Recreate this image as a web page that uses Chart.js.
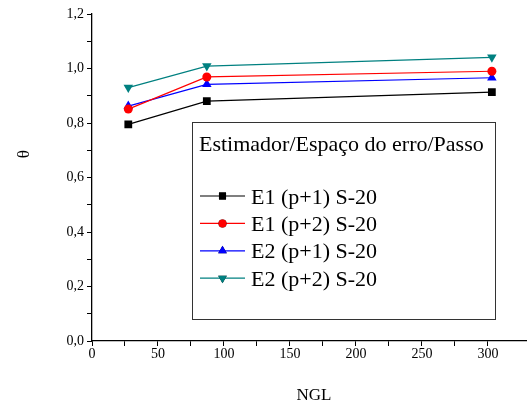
<!DOCTYPE html>
<html>
<head>
<meta charset="utf-8">
<script src="https://cdn.jsdelivr.net/npm/chart.js@4/dist/chart.umd.min.js"></script>
<style>
  html, body { margin: 0; background: #fff; overflow: hidden; }
  #wrap { width: 533px; height: 409px; }
</style>
</head>
<body>
<div id="wrap"><canvas id="thetaChart"></canvas></div>
<script>
// data
const ngl = [27.5, 87, 303];
const seriesNames = ['E1 (p+1) S-20', 'E1 (p+2) S-20', 'E2 (p+1) S-20', 'E2 (p+2) S-20'];
const e1p1 = [0.795, 0.880, 0.913];
const e1p2 = [0.851, 0.969, 0.990];
const e2p1 = [0.862, 0.942, 0.966];
const e2p2 = [0.930, 1.009, 1.041];
const legendTitle = 'Estimador/Espaço do erro/Passo';

const serif = 'Liberation Serif';
const colors = ['#000000', '#ff0000', '#0000ff', '#008080'];
const shapes = ['rect', 'circle', 'triangle', 'triangle'];
const rotations = [0, 0, 0, 180];
const values = [e1p1, e1p2, e2p1, e2p2];

const datasets = values.map((v, i) => ({
    label: seriesNames[i],
    data: v.map((y, j) => ({ x: ngl[j], y: y })),
    borderColor: colors[i],
    backgroundColor: colors[i],
    borderWidth: 1.2,
    pointStyle: shapes[i],
    pointRotation: rotations[i],
    pointRadius: shapes[i] == 'circle' ? 4.5 : 5.5,
    pointBorderWidth: 0,
    tension: 0
}));

// framed legend drawn inside the plot, like the original
const boxLegend = {
    id: 'boxLegend',
    afterDraw(chart) {
        const ctx = chart.ctx;
        const a = chart.chartArea;
        const left = a.left + 100, top = a.top + 108;
        const w = 303, h = 197;
        ctx.save();
        ctx.strokeStyle = '#333';
        ctx.lineWidth = 1;
        ctx.strokeRect(left + 0.5, top + 0.5, w, h);
        ctx.fillStyle = '#000';
        ctx.font = '22px "' + serif + '"';
        ctx.textBaseline = 'alphabetic';
        ctx.fillText(legendTitle, left + 7, top + 29);
        chart.data.datasets.forEach((ds, i) => {
            const y = top + 74 + i * 27.4;
            ctx.strokeStyle = ds.borderColor;
            ctx.lineWidth = 1.2;
            ctx.beginPath();
            ctx.moveTo(left + 8, y);
            ctx.lineTo(left + 53, y);
            ctx.stroke();
            Chart.helpers.drawPoint(ctx, {
                pointStyle: ds.pointStyle,
                rotation: ds.pointRotation,
                radius: ds.pointStyle == 'circle' ? 4 : 5,
                borderWidth: 0
            }, left + 30.5, y);
            ctx.fillStyle = ds.borderColor;
            ctx.fill();
            ctx.fillStyle = '#000';
            ctx.fillText(ds.label, left + 59, y + 7.5);
        });
        ctx.restore();
    }
};

new Chart(document.getElementById('thetaChart'), {
    type: 'line',
    data: { datasets: datasets },
    options: {
        responsive: true,
        maintainAspectRatio: false,
        animation: false,
        layout: { padding: { top: 14, right: 0, left: 0, bottom: 0 } },
        plugins: { legend: { display: false }, tooltip: { enabled: false } },
        scales: {
            x: {
                type: 'linear',
                min: 0,
                max: 330,
                afterBuildTicks: s => { s.ticks = s.ticks.filter(t => t.value % 25 === 0); },
                afterFit: s => { s.height = 68; },
                ticks: {
                    stepSize: 25,
                    autoSkip: false,
                    maxRotation: 0,
                    padding: 0,
                    color: '#000',
                    font: { family: serif, size: 14 },
                    callback: v => (v % 50 === 0 ? v : '')
                },
                grid: { drawOnChartArea: false, tickLength: 5, tickColor: '#000', tickWidth: 1 },
                border: { color: '#000', width: 1.3 },
                title: {
                    display: true,
                    text: '  NGL',
                    color: '#000',
                    font: { family: serif, size: 17 },
                    padding: { top: 0, bottom: 3 }
                }
            },
            y: {
                min: 0,
                max: 1.2,
                afterBuildTicks: s => { s.ticks = s.ticks.filter(t => Math.abs(t.value * 10 - Math.round(t.value * 10)) < 1e-6); },
                afterFit: s => { s.width = 92; },
                ticks: {
                    stepSize: 0.1,
                    autoSkip: false,
                    padding: 3,
                    color: '#000',
                    font: { family: serif, size: 14 },
                    callback: v => (Math.round(v * 10) % 2 === 0 ? v.toFixed(1).replace('.', ',') : '')
                },
                grid: { drawOnChartArea: false, tickLength: 5, tickColor: '#000', tickWidth: 1 },
                border: { color: '#000', width: 1.3 },
                title: {
                    display: true,
                    text: '           θ',
                    color: '#000',
                    font: { family: serif, size: 17 },
                    padding: { top: 14, bottom: 0 }
                }
            }
        }
    },
    plugins: [boxLegend]
});
</script>
</body>
</html>
